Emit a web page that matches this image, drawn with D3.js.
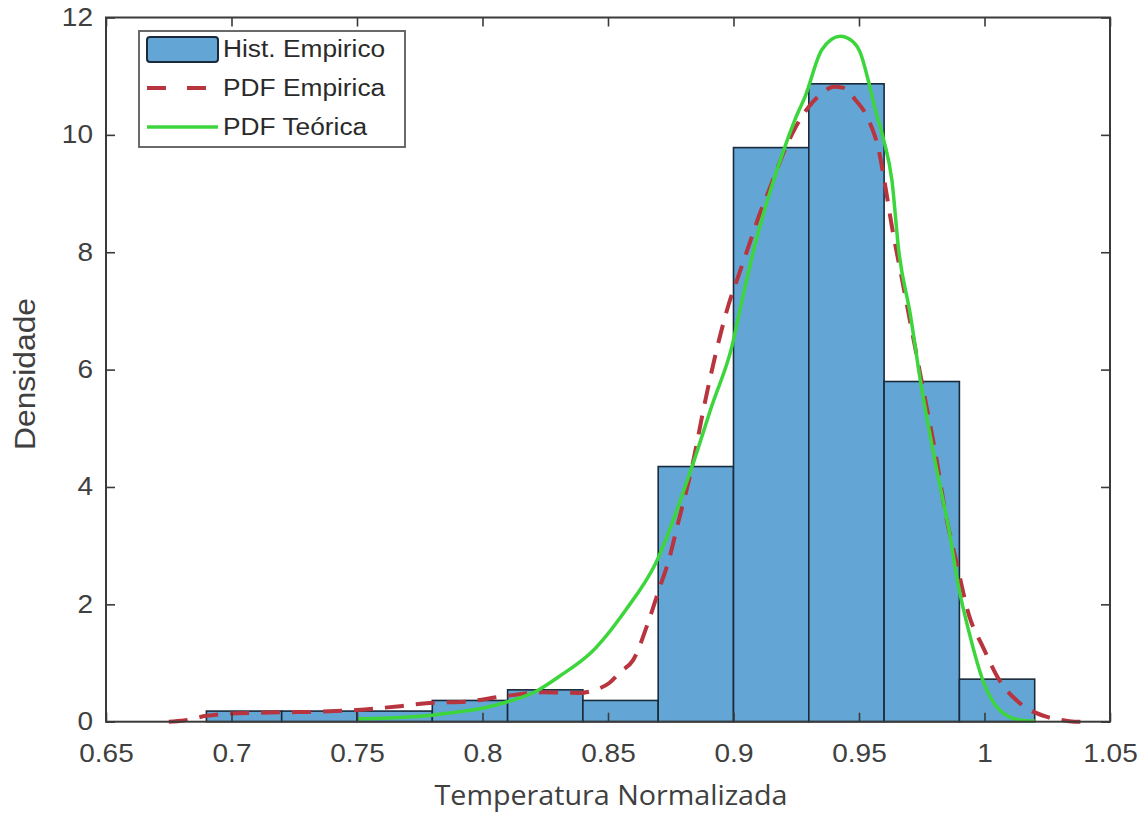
<!DOCTYPE html>
<html>
<head>
<meta charset="utf-8">
<script src="https://cdn.jsdelivr.net/npm/d3@7"></script>
<style>
  html, body { margin: 0; padding: 0; background: #ffffff; }
  svg { display: block; }
</style>
</head>
<body>
<svg id="chart" width="1147" height="814"></svg>
<script>
// ---------------- data ----------------
const binEdges = [0.69, 0.72, 0.75, 0.78, 0.81, 0.84, 0.87, 0.90, 0.93, 0.96, 0.99, 1.02];
const binDensity = [0.181, 0.181, 0.181, 0.362, 0.543, 0.362, 4.348, 9.783, 10.870, 5.797, 0.725];

const pdfEmpX = [0.675, 0.681, 0.690, 0.700, 0.710, 0.720, 0.735, 0.750, 0.766, 0.779, 0.793, 0.808, 0.824, 0.8385, 0.8455, 0.8505, 0.855, 0.860, 0.8663, 0.8703, 0.8742, 0.8776, 0.8835, 0.8888, 0.8928, 0.898, 0.902, 0.906, 0.910, 0.915, 0.920, 0.925, 0.930, 0.935, 0.940, 0.944, 0.9485, 0.9538, 0.9578, 0.9605, 0.9631, 0.967, 0.971, 0.975, 0.9807, 0.9847, 0.9886, 0.994, 0.9993, 1.0059, 1.014, 1.0246, 1.032, 1.0366, 1.040];
const pdfEmpY = [0.0, 0.02, 0.10, 0.14, 0.15, 0.16, 0.17, 0.20, 0.26, 0.32, 0.34, 0.43, 0.50, 0.49, 0.55, 0.66, 0.85, 1.05, 1.73, 2.25, 2.75, 3.33, 4.35, 5.48, 6.25, 7.10, 7.60, 8.10, 8.60, 9.15, 9.70, 10.15, 10.48, 10.70, 10.82, 10.80, 10.60, 10.26, 9.75, 9.12, 8.44, 7.57, 6.68, 5.79, 4.52, 3.50, 2.76, 1.79, 1.28, 0.71, 0.32, 0.085, 0.02, 0.0, 0.0];

const pdfTeoX = [0.750, 0.760, 0.770, 0.780, 0.787, 0.800, 0.810, 0.821, 0.8305, 0.8438, 0.857, 0.869, 0.8835, 0.8915, 0.8994, 0.9035, 0.909, 0.9152, 0.9205, 0.9245, 0.9286, 0.9352, 0.9425, 0.9472, 0.9505, 0.9538, 0.9565, 0.9598, 0.9631, 0.9658, 0.9704, 0.9745, 0.9807, 0.9861, 0.9894, 0.994, 0.9993, 1.006, 1.014, 1.020];
const pdfTeoY = [0.05, 0.06, 0.08, 0.11, 0.15, 0.23, 0.34, 0.51, 0.77, 1.20, 1.90, 2.70, 4.35, 5.40, 6.40, 7.20, 8.20, 9.12, 9.80, 10.26, 10.66, 11.45, 11.68, 11.60, 11.40, 10.91, 10.43, 9.92, 9.23, 8.04, 6.95, 5.80, 4.35, 3.21, 2.36, 1.50, 0.71, 0.20, 0.03, 0.01];

const xTicks = [0.65, 0.7, 0.75, 0.8, 0.85, 0.9, 0.95, 1, 1.05];
const yTicks = [0, 2, 4, 6, 8, 10, 12];
const xLabel = "Temperatura Normalizada";
const yLabel = "Densidade";
const legendLabels = ["Hist. Empirico", "PDF Empirica", "PDF Teórica"];

// ---------------- layout ----------------
const L = 106, R = 1110, T = 17.5, B = 721.7;
const barFill = "#63a6d6", barEdge = "#1b2a3a";
const redC = "#b8343e", greenC = "#3cd63c";
const axisC = "#3a3a3a", textC = "#404040";
const SX = 1.12; // horizontal stretch of the original text

const svg = d3.select("#chart");
const x = d3.scaleLinear().domain([0.65, 1.05]).range([L, R]);
const y = d3.scaleLinear().domain([0, 12]).range([B, T]);

// bars
const bins = binDensity.map((d, i) => ({x0: binEdges[i], x1: binEdges[i + 1], v: d}));
svg.append("g").selectAll("rect").data(bins).join("rect")
  .attr("x", d => x(d.x0))
  .attr("y", d => y(d.v))
  .attr("width", d => x(d.x1) - x(d.x0))
  .attr("height", d => y(0) - y(d.v))
  .attr("fill", barFill)
  .attr("stroke", barEdge)
  .attr("stroke-width", 1.6);

// curves
const line = d3.line().x(d => x(d[0])).y(d => y(d[1])).curve(d3.curveMonotoneX);
const empPts = pdfEmpX.map((v, i) => [v, pdfEmpY[i]]);
const teoPts = pdfTeoX.map((v, i) => [v, pdfTeoY[i]]);

svg.append("path").attr("d", line(empPts))
  .attr("fill", "none").attr("stroke", redC).attr("stroke-width", 4)
  .attr("stroke-dasharray", "19,12");
svg.append("path").attr("d", line(teoPts))
  .attr("fill", "none").attr("stroke", greenC).attr("stroke-width", 3.5)
  .attr("stroke-linejoin", "round");

// axes (ticks inside, box)
const tickLen = 9;
const fontTick = "Liberation Sans, Arial, sans-serif";

const gx = svg.append("g").attr("transform", `translate(0,${B})`)
  .call(d3.axisBottom(x).tickValues(xTicks).tickSize(-tickLen).tickPadding(23)
    .tickFormat(d3.format("")));
const gxTop = svg.append("g").attr("transform", `translate(0,${T})`)
  .call(d3.axisTop(x).tickValues(xTicks).tickSize(-tickLen).tickFormat(""));
const gy = svg.append("g").attr("transform", `translate(${L},0)`)
  .call(d3.axisLeft(y).tickValues(yTicks).tickSize(-tickLen).tickPadding(13)
    .tickFormat(d3.format("")));
const gyR = svg.append("g").attr("transform", `translate(${R},0)`)
  .call(d3.axisRight(y).tickValues(yTicks).tickSize(-tickLen).tickFormat(""));

[gx, gxTop, gy, gyR].forEach(g => {
  g.select(".domain").remove();
  g.selectAll(".tick line").attr("stroke", axisC).attr("stroke-width", 1.6);
  g.selectAll(".tick text").attr("fill", textC).attr("font-family", fontTick).attr("font-size", 25);
});
gx.selectAll(".tick text").attr("transform", `scale(${SX},1)`);
gy.selectAll(".tick text").attr("x", -13 / SX).attr("transform", `scale(${SX},1)`);

svg.append("rect").attr("x", L).attr("y", T).attr("width", R - L).attr("height", B - T)
  .attr("fill", "none").attr("stroke", axisC).attr("stroke-width", 2);

// axis labels
svg.append("text").text(xLabel)
  .attr("x", 611).attr("y", 805)
  .attr("text-anchor", "middle")
  .attr("font-family", "Open Sans, Noto Sans, sans-serif")
  .attr("font-size", 28).attr("fill", textC)
  .attr("textLength", 353).attr("lengthAdjust", "spacingAndGlyphs");

svg.append("text").text(yLabel)
  .attr("transform", "translate(35,374) rotate(-90)")
  .attr("text-anchor", "middle")
  .attr("font-family", fontTick)
  .attr("font-size", 30).attr("fill", textC)
  .attr("textLength", 152).attr("lengthAdjust", "spacingAndGlyphs");

// legend
const lg = svg.append("g");
lg.append("rect").attr("x", 139).attr("y", 31).attr("width", 266).attr("height", 116)
  .attr("fill", "#ffffff").attr("stroke", "#5a5a5a").attr("stroke-width", 1.8);
const rowY = [49, 88, 127];
lg.append("rect").attr("x", 147).attr("y", rowY[0] - 12).attr("width", 71).attr("height", 25)
  .attr("rx", 3).attr("fill", barFill).attr("stroke", barEdge).attr("stroke-width", 2);
lg.append("line").attr("x1", 147).attr("x2", 218).attr("y1", rowY[1]).attr("y2", rowY[1])
  .attr("stroke", redC).attr("stroke-width", 4).attr("stroke-dasharray", "19,21");
lg.append("line").attr("x1", 147).attr("x2", 218).attr("y1", rowY[2]).attr("y2", rowY[2])
  .attr("stroke", greenC).attr("stroke-width", 3.5);
legendLabels.forEach((t, i) => {
  lg.append("text").text(t)
    .attr("transform", `translate(223,${rowY[i]}) scale(${SX},1)`)
    .attr("dy", "0.35em")
    .attr("font-family", fontTick).attr("font-size", 23.5).attr("fill", "#2a2a2a");
});
</script>
</body>
</html>
